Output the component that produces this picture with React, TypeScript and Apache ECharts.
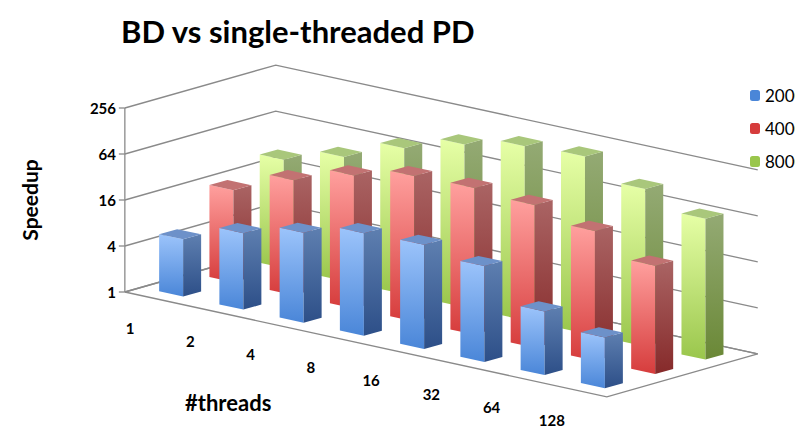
import { useEffect, useRef } from "react";
import * as echarts from "echarts";

const threads = ["1", "2", "4", "8", "16", "32", "64", "128"];
const speedup2000 = [5.6, 10, 15, 22, 23, 18, 6.8, 4.6];
const speedup4000 = [16, 32, 55, 80, 83, 74, 50, 26];
const speedup8000 = [26, 42, 81, 135, 190, 207, 115, 70];
const yTicks = [1, 4, 16, 64, 256];

const FONT = "Lato, 'Open Sans', sans-serif";
// oblique projection: depth step per row, floor skew per category
const DX = 50.3;
const DY = 14.3;
const SK = 13.1;
const BAR_W = 24;
const BAR_D = [18, -5];

const palettes = [
  { front: ["#9cc4fb", "#4a86d8"], side: ["#5e7fb0", "#2d4f88"], top: "#6d91c9" },
  { front: ["#ffa09e", "#d63c3c"], side: ["#aa6464", "#862a2a"], top: "#c27272" },
  { front: ["#e6ffa6", "#9ac64c"], side: ["#94aa74", "#6a8836"], top: "#a9c77b" },
];

const grad = (c: string[]) =>
  new echarts.graphic.LinearGradient(0, 0, 0, 1, [
    { offset: 0, color: c[0] },
    { offset: 1, color: c[1] },
  ]);

const barRenderer = (row: number) => (params: any, api: any) => {
  const i = api.value(0);
  const v = api.value(1);
  const base = api.coord([i, 1]);
  const top = api.coord([i, v]);
  const h = base[1] - top[1];
  const bw = api.size([1, 0])[0];
  const slope = SK / bw;
  const x = base[0] + row * DX;
  const yb = base[1] + (i + 0.5) * SK - (row + 0.5) * DY;
  const x0 = x - BAR_W / 2 - BAR_D[0] / 2;
  const y0 = yb - (slope * BAR_W) / 2 - BAR_D[1] / 2;
  const x1 = x0 + BAR_W;
  const y1 = y0 + BAR_W * slope;
  const p = palettes[row];
  return {
    type: "group",
    children: [
      {
        type: "polygon",
        shape: { points: [[x0, y0], [x1, y1], [x1, y1 - h], [x0, y0 - h]] },
        style: { fill: grad(p.front) },
      },
      {
        type: "polygon",
        shape: {
          points: [
            [x1, y1],
            [x1 + BAR_D[0], y1 + BAR_D[1]],
            [x1 + BAR_D[0], y1 + BAR_D[1] - h],
            [x1, y1 - h],
          ],
        },
        style: { fill: grad(p.side) },
      },
      {
        type: "polygon",
        shape: {
          points: [
            [x0, y0 - h],
            [x1, y1 - h],
            [x1 + BAR_D[0], y1 + BAR_D[1] - h],
            [x0 + BAR_D[0], y0 + BAR_D[1] - h],
          ],
        },
        style: { fill: p.top },
      },
    ],
  };
};

const wallRenderer = (params: any, api: any) => {
  const v = api.value(1);
  const bw = api.size([1, 0])[0];
  const c0 = api.coord([0, v]);
  const cb = api.coord([0, 1]);
  const ctop = api.coord([0, 256]);
  const flx = c0[0] - bw / 2 - DX / 2;
  const fl = [flx, c0[1]];
  const bl = [flx + 3 * DX, c0[1] - 3 * DY];
  const br = [bl[0] + 8 * bw, bl[1] + 8 * SK];
  const line = { stroke: "#8a8a8a", lineWidth: 1.3, fill: null };
  const children: any[] = [
    { type: "polyline", shape: { points: [fl, bl, br] }, style: line },
    { type: "line", shape: { x1: flx - 6, y1: fl[1], x2: flx, y2: fl[1] }, style: line },
  ];
  if (params.dataIndex === 0) {
    const f = [flx, cb[1]];
    const fb = [flx + 3 * DX, cb[1] - 3 * DY];
    const fr = [flx + 8 * bw, cb[1] + 8 * SK];
    const frb = [fb[0] + 8 * bw, fb[1] + 8 * SK];
    children.unshift({
      type: "polygon",
      shape: { points: [f, fr, frb, fb] },
      style: { fill: "#ffffff", stroke: "#8a8a8a", lineWidth: 1.3 },
    });
    children.push({
      type: "line",
      shape: { x1: flx, y1: cb[1], x2: flx, y2: ctop[1] },
      style: line,
    });
    threads.forEach((t, k) => {
      const ck = api.coord([k, 1]);
      children.push({
        type: "text",
        x: ck[0] - 50,
        y: ck[1] + 36 + k * SK,
        style: {
          text: t,
          fill: "#000",
          font: `bold 15px ${FONT}`,
          align: "center",
          verticalAlign: "middle",
        },
      });
    });
  }
  return { type: "group", children };
};

export default function App() {
  const chartRef = useRef<HTMLDivElement>(null);

  useEffect(() => {
    if (!chartRef.current) return;
    const chart = echarts.init(chartRef.current, null, { renderer: "svg" });

    const barSeries = (name: string, data: number[], row: number) => ({
      name,
      type: "custom",
      z: 10 - row,
      clip: false,
      renderItem: barRenderer(row),
      encode: { x: 0, y: 1 },
      data: data.map((v, i) => [i, v]),
      itemStyle: { color: palettes[row].front[1] },
    });

    chart.setOption({
      animation: false,
      backgroundColor: "#ffffff",
      textStyle: { fontFamily: FONT },
      title: {
        text: "BD vs single-threaded PD",
        left: 108,
        top: 2,
        textStyle: { fontSize: 31, fontWeight: "bold", color: "#000", fontFamily: FONT },
      },
      legend: {
        data: ["2000", "4000", "8000"],
        orient: "vertical",
        left: 737,
        top: 74,
        itemWidth: 10,
        itemHeight: 11,
        itemGap: 16,
        textStyle: { fontSize: 17, color: "#000", fontFamily: FONT },
      },
      grid: { left: 142, width: 482, top: 100, height: 184 },
      xAxis: {
        type: "category",
        data: threads,
        show: false,
      },
      yAxis: {
        type: "log",
        logBase: 4,
        min: 1,
        max: 256,
        name: "Speedup",
        nameLocation: "middle",
        nameGap: 110,
        nameTextStyle: { fontSize: 21, fontWeight: "bold", color: "#000", fontFamily: FONT },
        axisLine: { show: false },
        axisTick: { show: false },
        splitLine: { show: false },
        axisLabel: { margin: 34, fontSize: 15, color: "#000", fontWeight: "bold", fontFamily: FONT },
      },
      graphic: [
        {
          type: "text",
          left: 177,
          top: 383,
          style: { text: "#threads", font: `bold 22px ${FONT}`, fill: "#000" },
        },
      ],
      series: [
        {
          type: "custom",
          z: 1,
          clip: false,
          silent: true,
          renderItem: wallRenderer,
          encode: { x: 0, y: 1 },
          data: yTicks.map((v) => [0, v]),
        },
        barSeries("8000", speedup8000, 2),
        barSeries("4000", speedup4000, 1),
        barSeries("2000", speedup2000, 0),
      ],
    });

    return () => chart.dispose();
  }, []);

  return <div ref={chartRef} style={{ width: 787, height: 428 }} />;
}
